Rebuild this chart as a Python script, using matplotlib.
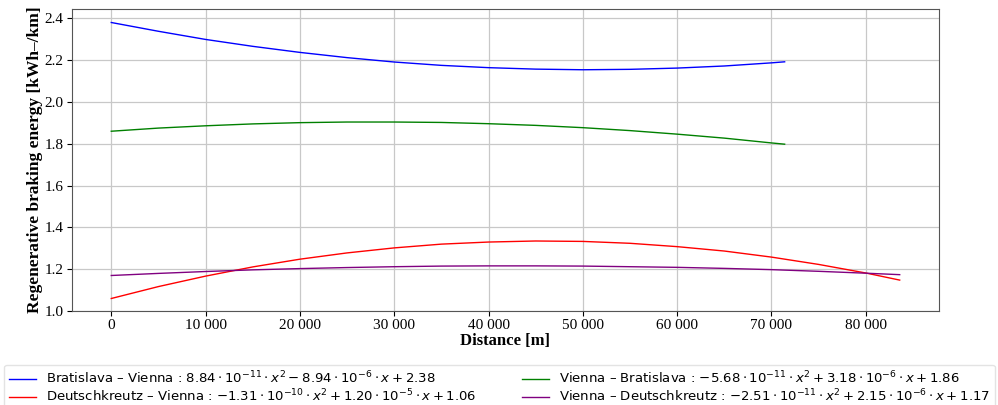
import matplotlib
matplotlib.use('Agg')
import matplotlib.pyplot as plt
from matplotlib.ticker import FuncFormatter

# Значения (км -> м)
dist_short = [0, 5000, 10000, 15000, 20000, 25000, 30000, 35000, 40000,
              45000, 50000, 55000, 60000, 65000, 70000, 71400]
dist_long = [0, 5000, 10000, 15000, 20000, 25000, 30000, 35000, 40000,
             45000, 50000, 55000, 60000, 65000, 70000, 75000, 80000, 83600]

bra_vie = [2.380, 2.338, 2.299, 2.266, 2.237, 2.212, 2.191, 2.175, 2.164,
           2.157, 2.154, 2.156, 2.162, 2.172, 2.187, 2.192]
vie_bra = [1.860, 1.875, 1.886, 1.895, 1.901, 1.904, 1.904, 1.902, 1.896,
           1.888, 1.877, 1.863, 1.846, 1.827, 1.804, 1.798]
deu_vie = [1.060, 1.117, 1.167, 1.211, 1.248, 1.278, 1.302, 1.320, 1.330,
           1.335, 1.333, 1.324, 1.308, 1.287, 1.258, 1.223, 1.182, 1.148]
vie_deu = [1.170, 1.180, 1.189, 1.197, 1.203, 1.208, 1.212, 1.215, 1.216,
           1.216, 1.215, 1.212, 1.209, 1.204, 1.198, 1.190, 1.181, 1.174]

labels = [
    r'Bratislava – Vienna : $8.84 \cdot 10^{-11} \cdot x^2 - 8.94 \cdot 10^{-6} \cdot x + 2.38$',
    r'Deutschkreutz – Vienna : $-1.31 \cdot 10^{-10} \cdot x^2 + 1.20 \cdot 10^{-5} \cdot x + 1.06$',
    r'Vienna – Bratislava : $-5.68 \cdot 10^{-11} \cdot x^2 + 3.18 \cdot 10^{-6} \cdot x + 1.86$',
    r'Vienna – Deutschkreutz : $-2.51 \cdot 10^{-11} \cdot x^2 + 2.15 \cdot 10^{-6} \cdot x + 1.17$',
]

plt.rcParams['mathtext.fontset'] = 'dejavusans'

fig = plt.figure(figsize=(9.98, 4.05), dpi=100)
ax = fig.add_axes([0.072, 0.232, 0.869, 0.746])

ax.plot(dist_short, bra_vie, color='blue', linewidth=1, label=labels[0])
ax.plot(dist_long, deu_vie, color='red', linewidth=1, label=labels[1])
ax.plot(dist_short, vie_bra, color='green', linewidth=1, label=labels[2])
ax.plot(dist_long, vie_deu, color='purple', linewidth=1, label=labels[3])

ax.set_ylim(1.0, 2.445)
ax.set_xticks(range(0, 80001, 10000))
ax.xaxis.set_major_formatter(FuncFormatter(lambda v, p: f'{int(v):,}'.replace(',', ' ')))
ax.grid(True, color='#c8c8c8', linewidth=0.9)
ax.tick_params(axis='both', pad=2.5)

serif = 'Liberation Serif'
for t in ax.get_xticklabels() + ax.get_yticklabels():
    t.set_fontfamily(serif)
    t.set_fontsize(11)
ax.set_xlabel('Distance [m]', fontfamily=serif, fontweight='bold', fontsize=12, labelpad=0.5)
ax.set_ylabel('Regenerative braking energy [kWh–/km]', fontfamily=serif,
              fontweight='bold', fontsize=12.5, labelpad=1)
for s in ax.spines.values():
    s.set_color('#555555')

fig.legend(loc='lower left', bbox_to_anchor=(0.004, -0.012, 0.993, 0.12),
           mode='expand', ncol=2, fontsize=9.5, labelspacing=0.1,
           handletextpad=0.75, borderaxespad=0, edgecolor='#dddddd', fancybox=True)

plt.savefig('out.png', dpi=100)
